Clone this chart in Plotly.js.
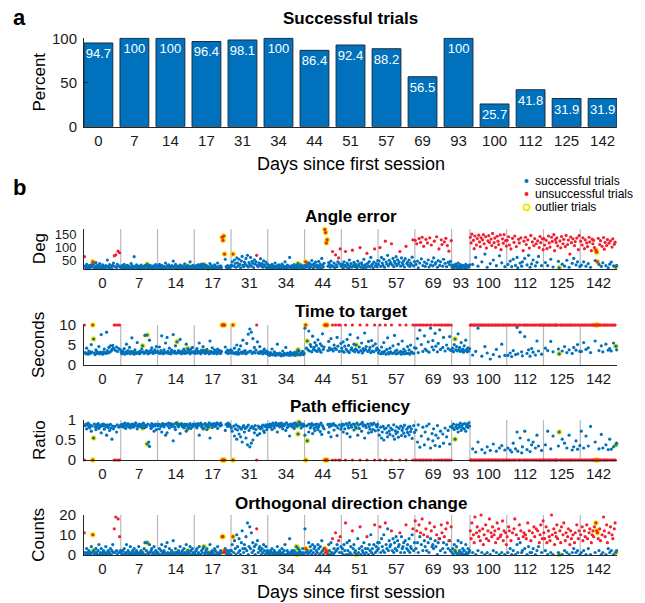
<!DOCTYPE html>
<html><head><meta charset="utf-8">
<script src="https://cdn.plot.ly/plotly-3.0.1.min.js"></script>
<style>html,body{margin:0;padding:0;background:#fff}#chart{width:645px;height:603px}</style>
</head><body><div id="chart"></div>
<script>
// ---------- data ----------
const sessionDays = ['0','7','14','17','31','34','44','51','57','69','93','100','112','125','142'];
const successPct = [94.7,100,100,96.4,98.1,100,86.4,92.4,88.2,56.5,100,25.7,41.8,31.9,31.9];

// per-trial status: 0 successful, 1 unsuccessful, 2 successful outlier, 3 unsuccessful outlier
const trialStatus = [
 "10000000 00032000 00000000 00000000 00000001 01001010",
 "00000000 00000000 00000000 00002000 00200000 00000000",
 "00000000 00000000 00000000 02000000 00000002 00000000",
 "00000000 00002000 00200000 00000000 00003333 00000000",
 "00300000 00000000 00000000 00000000 01000000 00000000",
 "00000000 00000000 00000000 00000000 00000222 20000000",
 "03020000 00000000 00000000 00333300 00001000 10001010",
 "00000100 00000010 00020000 10000000 01000000 00010000",
 "00100000 01000000 01000000 00001000 00001000 00000100",
 "10100101 01010010 10010100 01001001 00110010 10101001",
 "00002000 00000000 00000000",
 "11101110 11011110 11101101 11011101 11011101 10111011",
 "10110101 01101001 10100110 11010101 01011010 10111011",
 "11011011 10110111 11102111 01101101 10111010 11010110",
 "10110110 11011011 11103331 01101011 10110101 01101120"
];

const angleErr = [
 [65,28,22,35,19,25,30,21, 24,33,27,45,36,20,26,42, 23,31,19,28,38,24,21,29, 33,22,26,20,30,25,52,27, 21,34,24,28,19,31,40,68, 26,72,23,35,86,29,80,24],
 [24,30,21,27,35,19,26,22, 31,23,28,20,25,38,22,29, 21,65,26,24,33,20,28,23, 27,19,32,22,25,26,21,30, 24,28,36,20,27,23,31,22, 26,19,29,25,22,34,24,28],
 [22,28,35,20,26,31,24,19, 27,23,40,21,29,25,33,22, 26,20,30,24,48,27,21,35, 23,22,28,19,25,32,26,21, 29,24,20,37,27,22,25,30, 21,26,45,23,28,20,31,24],
 [25,21,30,27,19,34,23,28, 22,36,26,20,35,29,24,31, 21,27,20,25,38,23,30,19, 26,22,33,28,21,25,40,24, 27,20,29,23,140,128,145,75, 55,26,22,30,24,21,28,25],
 [32,45,75,28,52,38,24,60, 41,29,55,35,22,48,66,31, 26,44,37,58,30,70,25,42, 34,62,28,47,39,23,53,36, 45,70,30,26,41,35,57,29, 38,24,49,33,27,44,21,36],
 [24,20,31,27,22,35,19,28, 23,40,26,21,30,25,33,20, 27,22,36,24,29,21,45,26, 19,32,23,28,62,25,21,30, 26,22,34,20,27,30,22,38, 25,28,21,33,24,20,29,23],
 [30,45,24,35,28,41,22,36, 26,50,33,21,38,29,44,25, 32,23,47,27,36,20,58,31, 25,39,170,158,118,130,28,42, 35,24,48,30,85,27,40,22, 72,33,26,45,60,38,95,29],
 [28,36,22,45,31,85,25,40, 33,21,52,27,38,24,90,30, 43,26,35,30,22,48,29,37, 100,24,41,32,20,55,27,34, 23,78,39,28,46,25,62,31, 36,22,44,95,29,38,26,50],
 [35,48,100,27,62,40,31,55, 24,125,44,36,70,29,51,38, 42,115,33,58,26,47,39,65, 30,53,37,45,85,28,60,41, 34,49,25,57,105,38,44,31, 52,27,40,35,63,130,29,46],
 [128,35,115,48,22,135,40,120, 56,140,30,105,44,27,132,38, 118,52,25,138,33,110,46,29, 60,125,36,42,142,24,50,95, 31,45,130,112,28,55,122,39, 136,26,108,43,86,34,47,127],
 [25,32,21,28,30,36,23,27, 40,22,29,34,20,26,31,24, 28,21,35,26,23,30,25,33],
 [140,118,152,35,128,96,145,62, 110,135,28,148,122,104,138,45, 130,150,115,75,142,98,24,126, 146,120,38,133,108,155,52,119, 137,101,30,144,125,112,68,149, 92,41,134,117,150,26,127,106],
 [128,35,142,110,48,95,26,136, 55,120,145,31,104,62,22,132, 118,40,138,28,45,88,125,58, 140,112,33,130,70,98,24,147, 37,122,52,108,135,29,115,43, 126,66,100,143,119,30,134,92],
 [135,110,42,128,96,30,145,118, 102,55,140,124,25,150,88,131, 120,138,107,47,22,126,99,143, 36,115,132,28,104,147,51,112, 129,24,75,141,119,39,134,58, 108,123,33,137,45,92,146,27],
 [125,32,110,138,45,96,130,28, 118,104,38,140,122,24,88,133, 115,128,100,50,90,82,45,136, 35,112,127,27,105,41,139,94, 120,30,108,131,22,117,36,126, 44,102,134,29,113,121,25,31]
];

const timeToTarget = [
 [10,3.1,2.8,4.2,3.0,2.7,3.5,3.3, 2.9,5.1,3.2,10,6.5,3.0,2.6,3.8, 3.4,2.9,3.1,4.6,2.8,3.2,7.6,3.0, 2.7,3.3,4.0,3.1,2.9,8.2,3.6,3.0, 4.4,3.2,4.8,3.5,3.9,4.9,4.2,10, 3.7,10,4.5,3.4,10,4.1,10,3.8],
 [3.2,2.8,3.5,3.0,4.1,2.7,3.3,5.2, 2.9,3.6,3.1,4.4,2.8,3.4,6.8,3.0, 3.3,2.7,3.8,3.1,2.9,5.6,3.2,3.0, 2.8,3.5,3.1,4.0,4.8,3.3,2.9,7.4, 3.1,3.6,7.5,2.8,3.4,6.2,3.0,3.7, 4.3,3.2,2.9,3.5,3.8,3.1,4.6,3.3],
 [3.4,3.0,4.5,2.9,3.6,7.3,3.1,2.8, 3.8,3.2,5.5,3.0,6.9,3.4,2.9,4.2, 3.1,2.8,3.7,3.3,7.6,3.0,3.5,4.8, 2.9,5.8,3.2,3.6,3.0,6.4,3.3,2.8, 3.5,3.1,4.0,2.9,3.4,5.2,3.0,4.1, 3.6,3.2,2.8,3.9,3.1,4.4,3.3,3.0],
 [3.3,2.9,3.6,4.1,3.0,3.4,5.5,3.1, 2.8,3.7,3.2,4.6,3.6,3.0,2.9,3.5, 3.9,3.1,3.3,2.8,6.0,3.4,3.0,4.3, 3.2,2.9,3.8,3.1,3.5,2.8,4.0,3.3, 3.0,3.6,2.9,3.4,10,10,10,10, 4.5,3.2,3.0,3.7,2.9,3.5,3.1,3.8],
 [3.0,3.5,10,2.9,4.2,3.1,2.8,5.0, 3.3,2.7,3.9,3.0,4.8,3.2,2.9,6.2, 3.4,3.0,3.6,2.8,5.4,3.1,7.7,3.3, 9.0,3.5,8.2,2.9,6.6,3.2,4.4,3.0, 3.7,10,5.8,3.1,2.9,4.6,3.4,3.0, 3.2,2.8,3.6,4.0,3.1,2.9,3.5,3.3],
 [2.6,2.9,2.4,3.1,2.7,4.0,2.5,2.8, 3.3,2.6,2.4,2.9,5.2,2.7,2.5,3.0, 2.8,2.3,2.6,3.5,2.4,2.9,2.7,4.4, 2.5,3.0,2.6,2.8,2.4,3.2,2.7,2.5, 2.9,2.6,3.1,2.4,2.8,3.2,2.6,3.8, 3.5,2.7,2.5,3.0,2.8,3.4,2.6,2.9],
 [9.2,10,4.2,6.0,3.8,8.5,3.5,5.1, 4.6,3.3,7.2,3.9,4.4,5.6,3.6,4.9, 3.4,6.3,4.1,3.7,5.3,3.2,4.8,7.8, 3.9,4.5,10,10,10,10,3.6,5.9, 4.3,3.8,6.6,4.0,10,3.5,5.0,4.2, 10,3.9,6.9,4.7,10,3.4,10,5.4],
 [4.2,3.5,5.8,3.2,4.7,10,3.9,6.4, 3.4,4.9,3.1,7.6,3.8,4.3,10,3.6, 5.2,3.3,4.0,5.0,3.7,6.8,3.2,4.5, 10,3.6,5.5,3.0,4.1,3.5,8.0,3.9, 4.6,10,3.4,5.9,3.8,4.4,3.1,6.1, 3.5,4.8,3.3,10,5.3,3.7,4.2,3.9],
 [3.0,3.6,10,2.8,4.5,3.2,2.9,5.6, 3.4,10,2.7,3.9,6.8,3.1,2.8,4.2, 3.3,10,2.9,4.8,3.0,7.4,3.5,2.8, 3.7,2.9,5.2,3.1,10,3.4,2.7,6.0, 3.2,4.0,2.8,3.5,10,2.9,4.6,3.0, 3.8,2.7,5.0,3.3,3.1,10,2.9,4.3],
 [10,4.2,10,6.6,3.1,10,8.7,10, 5.1,10,3.4,10,7.3,4.0,10,3.6, 10,5.8,3.2,10,9.2,10,4.5,6.1, 3.8,10,7.9,4.7,10,3.3,5.4,10, 8.8,3.9,10,10,4.4,6.9,10,3.5, 10,5.0,10,4.1,10,7.1,3.7,10],
 [3.6,4.2,3.3,5.1,6.5,3.8,4.6,3.5, 7.8,3.9,4.4,3.4,5.6,3.7,4.0,3.2, 4.8,3.6,6.2,3.9,3.3,4.3,3.5,4.1],
 [10,10,10,2.5,10,10,10,3.4, 10,10,9.2,10,10,10,10,2.2, 10,10,10,4.6,10,10,3.0,10, 10,10,1.5,10,10,10,2.6,10, 10,10,3.9,10,10,10,2.1,10, 10,5.2,10,10,10,2.4,10,10],
 [10,2.4,10,10,3.0,10,2.1,10, 3.6,10,10,2.6,10,9.4,2.8,10, 10,8.2,10,3.3,2.3,10,10,7.1, 10,10,2.9,10,3.8,10,2.2,10, 4.1,10,3.2,10,10,2.5,10,6.0, 10,3.5,10,10,10,2.7,10,10],
 [10,10,4.2,10,10,3.6,10,10, 10,5.9,10,10,3.3,10,10,10, 10,10,10,4.0,2.8,10,10,10, 3.5,10,10,4.6,10,10,3.1,10, 10,3.8,10,10,10,2.9,10,4.4, 10,10,3.7,10,5.1,10,10,3.4],
 [10,3.4,10,10,5.6,10,10,3.9, 10,10,4.3,10,10,3.1,10,10, 10,10,10,6.0,10,10,10,10, 3.6,10,10,4.8,10,3.3,10,10, 10,5.2,10,10,3.7,10,4.1,10, 3.5,10,10,5.5,10,10,4.7,3.8]
];

const pathEff = [
 [0,.86,.9,.78,.88,.92,.84,.8, .87,.72,.85,0,.55,.9,.83,.76, .88,.82,.91,.79,.86,.84,.68,.89, .85,.9,.77,.87,.83,.62,.88,.81, .86,.74,.89,.8,.52,.85,.78,0, .84,0,.7,.88,0,.82,0,.86],
 [.88,.84,.9,.82,.86,.92,.79,.87, .85,.91,.83,.88,.8,.86,.9,.84, .82,.89,.87,.93,.85,.78,.88,.84, .9,.86,.83,.89,.8,.92,.85,.81, .87,.84,.4,.9,.45,.34,.86,.79, .91,.83,.88,.72,.85,.9,.76,.87],
 [.86,.9,.78,.88,.84,.7,.91,.87, .83,.89,.62,.9,.68,.85,.92,.8, .88,.91,.84,.87,.48,.9,.82,.76, .92,.92,.86,.83,.89,.66,.88,.91, .84,.87,.8,.9,.85,.72,.89,.78, .82,.88,.91,.79,.86,.83,.9,.87],
 [.87,.9,.84,.8,.91,.86,.62,.89, .92,.83,.88,.78,.8,.9,.91,.85, .76,.88,.82,.93,.55,.87,.9,.81, .88,.91,.84,.89,.86,.93,.79,.9, .9,.85,.92,.87,0,0,0,0, .74,.89,.9,.84,.92,.86,.88,.83],
 [.8,.72,0,.85,.6,.78,.88,.52, .75,.84,.65,.81,.58,.77,.45,.83, .86,.7,.79,.55,.82,.38,.87,.74, .33,.8,.42,.84,.5,.79,.68,.86, .76,0,.62,.85,.81,.66,.78,.83, .8,.87,.73,.69,.84,.88,.76,.82],
 [.88,.84,.9,.82,.87,.76,.92,.85, .8,.89,.93,.86,.7,.88,.91,.83, .87,.92,.84,.78,.9,.86,.89,.74, .93,.81,.88,.85,.6,.9,.87,.83, .86,.91,.79,.92,.85,.9,.85,.65, .95,.88,.92,.8,.87,.84,.9,.86],
 [.62,0,.85,.48,.88,.7,.9,.8, .84,.91,.66,.87,.79,.73,.89,.82, .9,.76,.83,.88,.71,.92,.64,.86, .81,.78,0,0,0,0,.89,.69, .83,.9,.58,.86,0,.91,.75,.87, 0,.85,.61,.8,0,.88,0,.77],
 [.84,.9,.7,.88,.78,0,.91,.66, .86,.8,.93,.58,.87,.82,0,.9, .75,.89,.83,.8,.92,.62,.88,.79, 0,.9,.72,.94,.85,.88,.55,.86, .81,0,.9,.68,.84,.77,.91,.7, .88,.76,.92,0,.73,.87,.83,.89],
 [.75,.62,0,.82,.55,.7,.84,.5, .78,0,.8,.68,.58,.86,.72,.64, .8,0,.76,.6,.88,.52,.73,.66, .83,.7,.57,.79,0,.85,.61,.74, .81,.67,.87,.59,0,.77,.69,.82, .63,.84,.71,.78,.54,0,.86,.69],
 [0,.75,0,.45,.88,0,.32,0, .6,0,.82,0,.38,.7,0,.85, 0,.52,.9,0,.3,0,.66,.48, .78,0,.36,.62,0,.86,.55,0, .34,.72,0,0,.65,.42,0,.8, 0,.58,0,.74,0,.4,.83,0],
 [.85,.8,.9,.76,.52,.83,.88,.79, .7,.87,.82,.92,.74,.86,.8,.9, .78,.91,.72,.84,.89,.81,.93,.85],
 [0,0,0,.28,0,0,0,.2, 0,0,.45,0,0,0,0,.26, 0,0,0,.18,0,0,.33,0, 0,0,.24,0,0,0,.4,0, 0,0,.22,0,0,0,.3,0, 0,.36,0,0,0,.25,0,0],
 [0,.3,0,0,.25,0,.2,0, .42,0,0,.28,0,.7,.22,0, 0,.55,0,.18,.33,0,0,.72, 0,0,.26,0,.5,0,.21,0, .38,0,.45,0,0,.3,0,.62, 0,.35,0,0,0,.24,0,0],
 [0,0,.38,0,0,.72,0,0, 0,.28,0,0,.6,0,0,0, 0,0,0,.35,.7,0,0,0, .52,0,0,.42,0,0,.3,0, 0,.62,0,0,0,.25,0,.33, 0,0,.48,0,.27,0,0,.36],
 [0,.72,0,0,.3,0,0,.6, 0,0,.35,0,0,.84,0,0, 0,0,0,.45,0,0,0,0, .28,0,0,.64,0,.3,0,0, 0,.38,0,0,.26,0,.52,0, .27,0,0,.33,0,0,.38,.42]
];

const dirChanges = [
 [11,1,0,3,1,0,2,1, 0,4,1,10,2,0,1,3, 1,0,2,5,0,1,3,0, 1,2,0,1,4,0,1,2, 0,1,3,0,2,5,1,13, 1,19,2,0,18,1,9,2],
 [1,0,2,0,3,1,0,5, 1,2,0,1,4,0,1,2, 0,3,1,0,2,1,0,4, 1,0,2,1,1,0,3,6, 0,2,6,1,0,5,1,2, 3,0,1,4,0,2,1,0],
 [1,0,3,0,2,5,1,0, 2,1,4,0,6,1,0,3, 0,1,2,0,7,1,0,3, 1,1,0,2,1,4,0,1, 2,0,3,1,0,5,1,2, 0,1,4,2,0,3,1,0],
 [1,0,2,3,0,1,4,0, 0,2,1,3,4,0,1,2, 3,0,1,0,5,1,0,2, 1,0,3,2,0,1,4,0, 1,0,2,1,9,9,1,2, 3,1,0,2,0,1,2,0],
 [2,5,9,1,7,3,0,10, 4,1,8,2,0,6,12,3, 1,5,3,9,2,16,0,4, 14,3,11,1,6,2,4,0, 5,13,7,1,3,4,2,0, 3,1,5,2,0,4,1,2],
 [0,1,0,2,1,3,0,1, 2,0,1,0,4,1,0,2, 1,0,3,1,0,2,5,0, 0,2,1,0,8,1,0,2, 1,0,2,0,1,4,0,3, 1,2,0,1,0,3,1,0],
 [13,3,1,2,0,6,1,4, 2,0,5,1,3,4,0,2, 1,5,3,0,4,1,7,2, 0,3,3,1,2,1,0,5, 2,0,6,1,8,0,3,1, 11,2,5,3,7,1,9,4],
 [1,3,0,5,2,16,0,6, 2,0,7,1,4,0,12,3, 5,1,2,0,0,8,1,3, 14,0,4,2,1,6,0,3, 1,9,3,0,5,2,10,1, 3,0,5,15,1,4,2,6],
 [3,6,14,1,8,4,2,10, 1,16,5,3,13,2,7,4, 5,12,2,8,1,6,3,9, 2,7,4,5,11,1,9,3, 4,6,1,7,15,3,5,2, 8,1,4,3,10,13,2,6],
 [17,3,12,6,1,15,9,11, 5,18,2,10,7,4,13,2, 9,6,1,16,8,12,4,5, 3,14,7,4,10,0,6,8, 8,2,15,11,3,6,9,1, 13,5,16,3,7,7,2,14],
 [1,3,0,5,2,1,4,0, 7,1,2,0,6,1,3,0, 2,0,5,1,0,3,1,2],
 [12,8,16,1,10,6,19,0, 11,14,2,9,12,7,20,1, 13,5,10,0,15,8,1,12, 7,18,0,11,9,14,2,10, 12,6,1,16,8,13,0,9, 10,1,17,7,12,0,11,5],
 [9,1,14,12,3,7,0,11, 2,13,18,0,10,5,1,8, 15,6,12,1,2,9,11,3, 10,8,0,16,4,12,1,7, 1,11,3,14,9,0,13,2, 12,4,6,10,15,1,8,17],
 [11,8,2,14,6,0,12,9, 7,1,20,10,0,13,5,11, 9,15,8,1,0,12,6,14, 0,10,16,2,7,11,1,9, 13,0,5,12,8,1,10,3, 6,11,1,15,2,8,12,0],
 [10,1,14,7,2,12,9,0, 15,8,3,11,13,0,6,10, 12,9,14,1,16,12,11,8, 2,13,7,0,10,1,19,12, 9,0,15,6,3,11,1,14, 2,10,8,0,13,16,1,2]
];

// ---------- drawing ----------
const W = 645, H = 603;
const px = v => v / W, py = v => 1 - v / H;
const FONT = '"Liberation Sans", Arial, Helvetica, sans-serif';
const BLUE = '#0072BD', RED = '#F2202F', YEL = '#EEEA00', AX = '#262626', TXT = '#1a1a1a';
const X0 = 84, X1 = 617;

const starts = []; const lens = []; let total = 0;
trialStatus.forEach(s => { const n = s.replace(/\s/g, '').length; starts.push(total); lens.push(n); total += n; });
const centers = starts.map((s, k) => s + lens[k] / 2);

const traces = [];
const annotations = [];
const shapes = [];
const layout = {
  width: W, height: H, margin: {l: 0, r: 0, t: 0, b: 0},
  paper_bgcolor: '#fff', plot_bgcolor: 'rgba(0,0,0,0)',
  font: {family: FONT, color: TXT},
  showlegend: false, bargap: 0.2,
};

// panel a: bars
traces.push({
  type: 'bar', x: sessionDays.map((d, i) => i), y: successPct,
  text: successPct.map(v => String(v)), textposition: 'inside', insidetextanchor: 'end',
  constraintext: 'none', textangle: 0,
  insidetextfont: {family: FONT, size: 13, color: '#ffffff'},
  marker: {color: BLUE, line: {color: '#1c2a3a', width: 1}},
  xaxis: 'x', yaxis: 'y', hoverinfo: 'skip'
});
layout.xaxis = {
  domain: [px(X0), px(X1)], range: [-0.4, 14.4], anchor: 'y',
  tickvals: sessionDays.map((d, i) => i), ticktext: sessionDays,
  showline: true, linecolor: AX, linewidth: 1, ticks: '', showgrid: false, zeroline: false,
  tickfont: {size: 15, color: TXT}, ticklabelstandoff: 0, fixedrange: true
};
layout.yaxis = {
  domain: [py(126.7), py(37.6)], range: [0, 100.8], anchor: 'x',
  tickvals: [0, 50, 100], showline: true, linecolor: AX, linewidth: 1,
  ticks: 'inside', ticklen: 4, tickcolor: AX, showgrid: false, zeroline: false,
  tickfont: {size: 15, color: TXT}, ticklabelstandoff: 3, fixedrange: true
};
annotations.push(
  {text: '<b>a</b>', x: px(19.5), y: py(18), font: {size: 22}},
  {text: '<b>Successful trials</b>', x: px((X0 + X1) / 2), y: py(19), font: {size: 17}},
  {text: 'Percent', x: px(39), y: py(82.5), textangle: -90, font: {size: 17}},
  {text: 'Days since first session', x: px((X0 + X1) / 2), y: py(164), font: {size: 18}},
  {text: '<b>b</b>', x: px(19), y: py(187), font: {size: 22}}
);

// panel b: four scatter subplots
const panels = [
  {vals: angleErr, range: [16, 172], tv: [50, 100, 150], tf: 13, title: 'Angle error', ytitle: 'Deg', top: 229, bot: 269.3, ttl: 216.7},
  {vals: timeToTarget, range: [0, 10], tv: [0, 5, 10], tf: 15, title: 'Time to target', ytitle: 'Seconds', top: 325, bot: 365, ttl: 311.7},
  {vals: pathEff, range: [0, 1], tv: [0, 0.5, 1], tf: 15, title: 'Path efficiency', ytitle: 'Ratio', top: 420, bot: 460, ttl: 406.7},
  {vals: dirChanges, range: [0, 20], tv: [0, 10, 20], tf: 15, title: 'Orthogonal direction change', ytitle: 'Counts', top: 515, bot: 554.5, ttl: 503}
];

panels.forEach((P, p) => {
  const ai = p + 2, xa = 'x' + ai, ya = 'y' + ai;
  const ok = {x: [], y: []}, fail = {x: [], y: []}, out = {x: [], y: []};
  trialStatus.forEach((s, k) => {
    const st = s.replace(/\s/g, '');
    for (let i = 0; i < st.length; i++) {
      const v = P.vals[k][i];
      if (v === undefined) continue;
      const x = starts[k] + i + 0.5, c = st[i];
      if (c === '0' || c === '2') { ok.x.push(x); ok.y.push(v); }
      else { fail.x.push(x); fail.y.push(v); }
      if (c === '2' || c === '3') { out.x.push(x); out.y.push(v); }
    }
  });
  traces.push({type: 'scatter', mode: 'markers', x: out.x, y: out.y, xaxis: xa, yaxis: ya, cliponaxis: false, hoverinfo: 'skip',
    marker: {symbol: 'circle', color: YEL, size: 5.5, line: {width: 0}}});
  traces.push({type: 'scatter', mode: 'markers', x: ok.x, y: ok.y, xaxis: xa, yaxis: ya, cliponaxis: false, hoverinfo: 'skip',
    marker: {color: BLUE, size: 3.2, line: {width: 0}}});
  traces.push({type: 'scatter', mode: 'markers', x: fail.x, y: fail.y, xaxis: xa, yaxis: ya, cliponaxis: false, hoverinfo: 'skip',
    marker: {color: RED, size: 3.2, line: {width: 0}}});

  layout['xaxis' + ai] = {
    domain: [px(X0), px(X1)], range: [0, total], anchor: ya,
    tickvals: centers, ticktext: sessionDays,
    showline: true, linecolor: AX, linewidth: 1, ticks: '', showgrid: false, zeroline: false,
    tickfont: {size: 15, color: TXT}, ticklabelstandoff: 0, fixedrange: true
  };
  layout['yaxis' + ai] = {
    domain: [py(P.bot), py(P.top)], range: P.range, anchor: xa,
    tickvals: P.tv, showline: true, linecolor: AX, linewidth: 1, ticks: '', showgrid: false, zeroline: false,
    tickfont: {size: P.tf, color: TXT}, ticklabelstandoff: 4, fixedrange: true
  };
  for (let k = 1; k < starts.length; k++) {
    shapes.push({type: 'line', xref: xa, yref: ya + ' domain', x0: starts[k], x1: starts[k], y0: 0, y1: 1,
      line: {color: '#b8b8b8', width: 1.2}, layer: 'below'});
  }
  annotations.push(
    {text: '<b>' + P.title + '</b>', x: px((X0 + X1) / 2), y: py(P.ttl), font: {size: 17}},
    {text: P.ytitle, x: px(39), y: py((P.top + P.bot) / 2), textangle: -90, font: {size: 17}}
  );
});
annotations.push({text: 'Days since first session', x: px((X0 + X1) / 2), y: py(592), font: {size: 18}});

// legend (panel b)
const legendItems = [
  {label: 'successful trials', symbol: 'circle', color: BLUE, size: 4, lw: 0},
  {label: 'unsuccessful trials', symbol: 'circle', color: RED, size: 4, lw: 0},
  {label: 'outlier trials', symbol: 'circle-open', color: YEL, size: 6, lw: 1.8}
];
const legRows = [181, 194, 207.3];
layout.xaxis6 = {domain: [px(520), px(533)], range: [0, 1], visible: false, fixedrange: true, anchor: 'y6'};
layout.yaxis6 = {domain: [py(214), py(174)], range: [214, 174], visible: false, fixedrange: true, anchor: 'x6'};
legendItems.forEach((it, i) => {
  traces.push({type: 'scatter', mode: 'markers', x: [0.5], y: [legRows[i]], xaxis: 'x6', yaxis: 'y6', hoverinfo: 'skip', cliponaxis: false,
    marker: {symbol: it.symbol, color: it.color, size: it.size, line: {width: it.lw, color: it.color}}});
  annotations.push({text: it.label, x: px(533), y: py(legRows[i]), xanchor: 'left', font: {size: 12}});
});

layout.annotations = annotations.map(a => Object.assign({xref: 'paper', yref: 'paper', showarrow: false, xanchor: 'center', yanchor: 'middle'}, a,
  {font: Object.assign({family: FONT, color: '#000'}, a.font)}));
layout.shapes = shapes;

Plotly.newPlot('chart', traces, layout, {displayModeBar: false, staticPlot: true});
</script>
</body></html>
